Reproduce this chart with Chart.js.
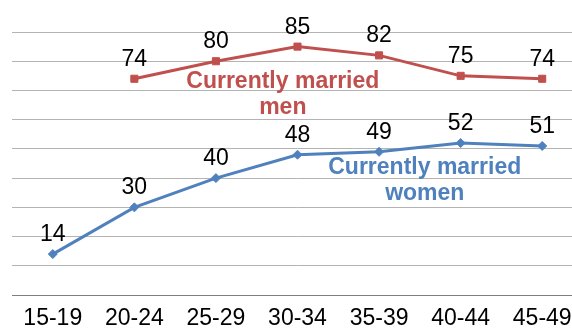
<!DOCTYPE html>
<html>
<head>
<meta charset="utf-8">
<script src="https://cdn.jsdelivr.net/npm/chart.js@4/dist/chart.umd.min.js"></script>
<style>
  html, body { margin: 0; padding: 0; background: #fff; overflow: hidden; }
  #wrap { width: 590px; height: 334px; }
</style>
</head>
<body>
<div id="wrap"><canvas id="c" width="590" height="334"></canvas></div>
<script>
const categories = ["15-19", "20-24", "25-29", "30-34", "35-39", "40-44", "45-49"];
const menValues = [null, 74, 80, 85, 82, 75, 74];
const womenValues = [14, 30, 40, 48, 49, 52, 51];
const menLabel = ["Currently married", "men"];
const womenLabel = ["Currently married", "women"];

const RED = "#C0504D";
const BLUE = "#4F81BD";
const FONT = "'Liberation Sans', Arial, sans-serif";

const valueLabels = {
  id: "valueLabels",
  afterDatasetsDraw(chart) {
    const ctx = chart.ctx;
    ctx.save();
    ctx.font = "23px " + FONT;
    ctx.fillStyle = "#000";
    ctx.textAlign = "center";
    ctx.textBaseline = "alphabetic";
    chart.data.datasets.forEach((ds, i) => {
      const meta = chart.getDatasetMeta(i);
      meta.data.forEach((pt, j) => {
        const v = ds.data[j];
        if (v === null || v === undefined) return;
        ctx.fillText(String(v), pt.x, pt.y - 13);
      });
    });
    ctx.restore();
  }
};

const seriesLabels = {
  id: "seriesLabels",
  afterDatasetsDraw(chart) {
    const ctx = chart.ctx;
    const xs = chart.scales.x, ys = chart.scales.y;
    ctx.save();
    ctx.font = "bold 23px " + FONT;
    ctx.textAlign = "center";
    ctx.textBaseline = "alphabetic";
    const draw = (lines, xi, yv, color) => {
      ctx.fillStyle = color;
      const x = xs.getPixelForValue(xi);
      const y = ys.getPixelForValue(yv);
      lines.forEach((t, k) => ctx.fillText(t, x, y + k * 26));
    };
    draw(menLabel, 2.82, 70.9, RED);
    draw(womenLabel, 4.56, 41.4, BLUE);
    ctx.restore();
  }
};

new Chart(document.getElementById("c"), {
  type: "line",
  data: {
    labels: categories,
    datasets: [
      {
        label: "Currently married men",
        data: menValues,
        borderColor: RED,
        backgroundColor: RED,
        borderWidth: 3,
        pointStyle: "rect",
        pointRadius: 5,
        pointBorderWidth: 1,
        tension: 0,
        spanGaps: false
      },
      {
        label: "Currently married women",
        data: womenValues,
        borderColor: BLUE,
        backgroundColor: BLUE,
        borderWidth: 3,
        pointStyle: "rectRot",
        pointRadius: 4.5,
        pointBorderWidth: 1,
        tension: 0
      }
    ]
  },
  options: {
    responsive: false,
    animation: false,
    layout: { padding: { top: 32, left: 12, right: 7, bottom: 0 } },
    plugins: { legend: { display: false }, tooltip: { enabled: false } },
    scales: {
      x: {
        offset: true,
        grid: { display: false },
        border: { display: true, color: "#7f7f7f", width: 1 },
        ticks: { color: "#000", font: { family: FONT, size: 23, lineHeight: 1 }, padding: 4, maxRotation: 0, autoSkip: false }
      },
      y: {
        min: 0,
        max: 90,
        ticks: { display: false, stepSize: 10 },
        border: { display: false },
        grid: {
          drawTicks: false,
          color: (c) => (c.tick && c.tick.value === 0 ? "#7f7f7f" : "#b3b3b3"),
          lineWidth: 1
        }
      }
    }
  },
  plugins: [valueLabels, seriesLabels]
});
</script>
</body>
</html>
